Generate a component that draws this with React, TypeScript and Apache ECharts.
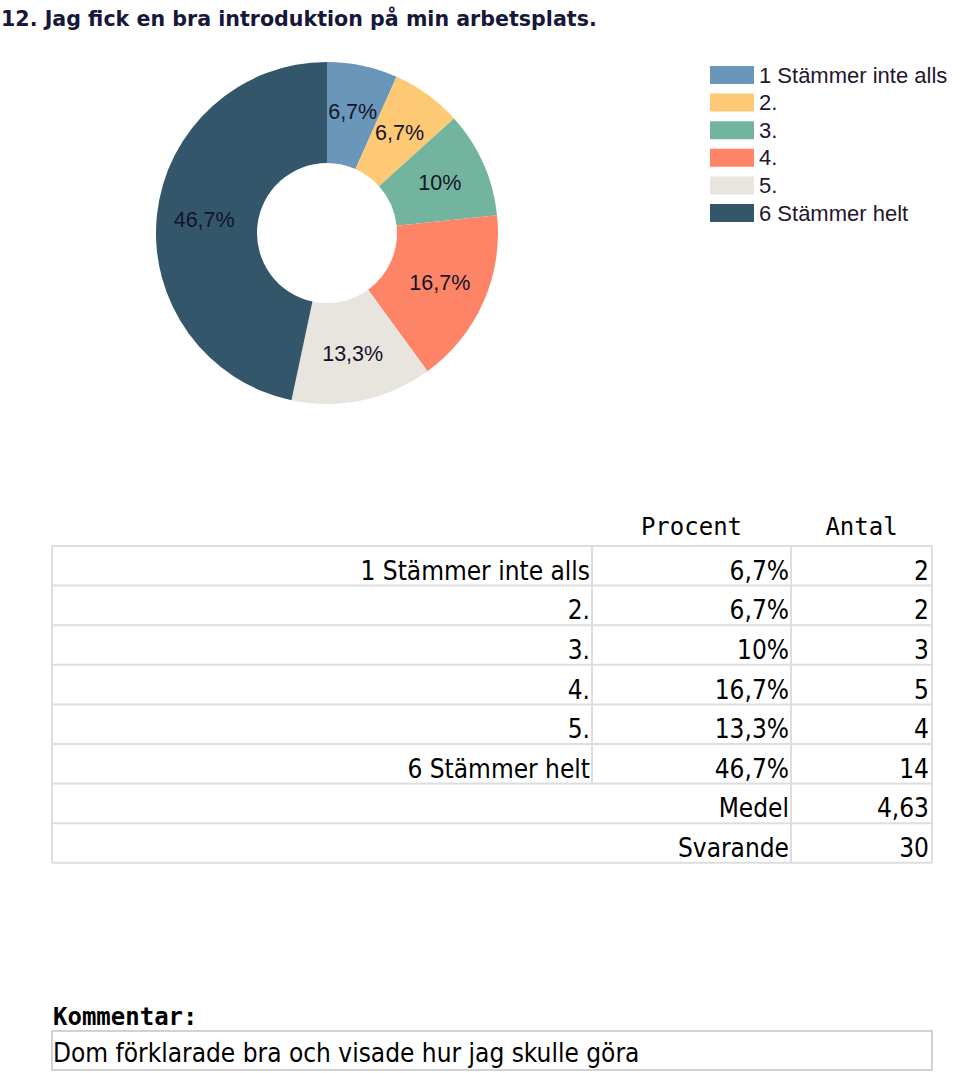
import React, { useEffect, useRef } from "react";
import * as echarts from "echarts";

const title = "12. Jag fick en bra introduktion på min arbetsplats.";
const categories = ["1 Stämmer inte alls", "2.", "3.", "4.", "5.", "6 Stämmer helt"];
const counts = [2, 2, 3, 5, 4, 14];
const percentLabels = ["6,7%", "6,7%", "10%", "16,7%", "13,3%", "46,7%"];
const colors = ["#6a97b9", "#fdc975", "#72b49e", "#fd8466", "#e8e5df", "#33566b"];
const tableHeaders = ["Procent", "Antal"];
const summaryLabels = ["Medel", "Svarande"];
const summaryValues = ["4,63", "30"];
const commentTitle = "Kommentar:";
const comments = ["Dom förklarade bra och visade hur jag skulle göra"];

const ROW_FONT = '26px "DejaVu Sans Condensed", "DejaVu Sans"';
const MONO_FONT = '24px "DejaVu Sans Mono"';

function buildGraphics() {
  const g: any[] = [];
  const txt = (text: string, x: number, y: number, font: string, align: string, fill = "#000") => ({
    type: "text",
    x,
    y,
    silent: true,
    style: { text, font, fill, align, verticalAlign: "middle", textAlign: align, textVerticalAlign: "middle" },
  });
  // title
  g.push(txt(title, 1, 19, 'bold 20.6px "DejaVu Sans"', "left", "#17173a"));

  const left = 52, c1 = 592, c2 = 791, right = 932, top = 546, rowH = 39.6;
  const nRows = categories.length + summaryLabels.length;
  const lineStyle = { stroke: "#dedede", lineWidth: 2 };
  // headers
  g.push(txt(tableHeaders[0], (c1 + c2) / 2, 527, MONO_FONT, "center"));
  g.push(txt(tableHeaders[1], (c2 + right) / 2, 527, MONO_FONT, "center"));
  // horizontal lines
  for (let i = 0; i <= nRows; i++) {
    const y = top + i * rowH;
    g.push({ type: "line", silent: true, shape: { x1: left, y1: y, x2: right, y2: y }, style: lineStyle });
  }
  // vertical lines
  g.push({ type: "line", silent: true, shape: { x1: left, y1: top, x2: left, y2: top + nRows * rowH }, style: lineStyle });
  g.push({ type: "line", silent: true, shape: { x1: right, y1: top, x2: right, y2: top + nRows * rowH }, style: lineStyle });
  g.push({ type: "line", silent: true, shape: { x1: c2, y1: top, x2: c2, y2: top + nRows * rowH }, style: lineStyle });
  g.push({ type: "line", silent: true, shape: { x1: c1, y1: top, x2: c1, y2: top + categories.length * rowH }, style: lineStyle });
  // rows
  categories.forEach((c, i) => {
    const y = top + i * rowH + rowH / 2 + 5;
    g.push(txt(c, c1 - 2, y, ROW_FONT, "right"));
    g.push(txt(percentLabels[i], c2 - 2, y, ROW_FONT, "right"));
    g.push(txt(String(counts[i]), right - 3, y, ROW_FONT, "right"));
  });
  summaryLabels.forEach((s, j) => {
    const i = categories.length + j;
    const y = top + i * rowH + rowH / 2 + 5;
    g.push(txt(s, c2 - 2, y, ROW_FONT, "right"));
    g.push(txt(summaryValues[j], right - 3, y, ROW_FONT, "right"));
  });
  // comments
  g.push(txt(commentTitle, 53, 1017, "bold " + MONO_FONT, "left"));
  comments.forEach((c, i) => {
    const y0 = 1031 + i * 39;
    g.push({ type: "rect", silent: true, shape: { x: 52, y: y0, width: 880, height: 39 }, style: { fill: "#fff", stroke: "#c4c4c4", lineWidth: 1.5 } });
    g.push(txt(c, 53, y0 + 22, ROW_FONT, "left"));
  });
  return g;
}

export default function App() {
  const ref = useRef<HTMLDivElement>(null);
  useEffect(() => {
    const chart = echarts.init(ref.current!, null, { renderer: "svg" });
    chart.setOption({
      animation: false,
      backgroundColor: "#ffffff",
      color: colors,
      legend: {
        orient: "vertical",
        left: 705,
        top: 59,
        itemWidth: 44,
        itemHeight: 18,
        itemGap: 5.6,
        icon: "rect",
        textStyle: { fontFamily: '"Liberation Sans", Arial', fontSize: 22, color: "#24162e", lineHeight: 22, padding: [0, 0, 0, 0] },
        data: categories,
      },
      series: [
        {
          type: "pie",
          center: [327, 233],
          radius: [70, 171],
          startAngle: 90,
          clockwise: true,
          avoidLabelOverlap: false,
          minShowLabelAngle: 0,
          labelLayout: { hideOverlap: false },
          label: {
            position: "inside",
            fontFamily: '"Liberation Sans", Arial',
            fontSize: 21.5,
            color: "#141428",
            overflow: "none",
            formatter: (p: any) => String(Math.round(p.percent * 10) / 10).replace(".", ",") + "%",
          },
          labelLine: { show: false },
          itemStyle: { borderWidth: 0 },
          emphasis: { disabled: true },
          data: categories.map((c, i) => ({ name: c, value: counts[i] })),
        },
      ],
      graphic: buildGraphics(),
    });
    return () => chart.dispose();
  }, []);
  return <div ref={ref} style={{ position: "fixed", left: 0, top: 0, width: 960, height: 1073 }} />;
}
